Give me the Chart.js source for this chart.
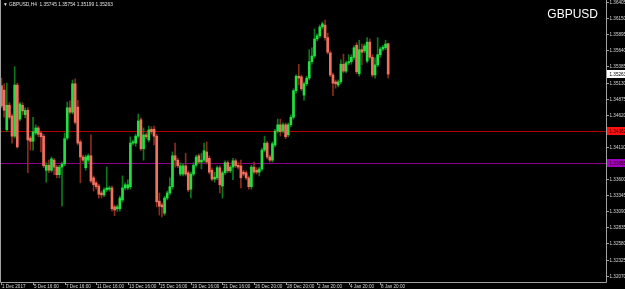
<!DOCTYPE html>
<html lang="en">
<head>
  <meta charset="UTF-8" />
  <title>GBPUSD,H4</title>
  <script src="https://cdn.jsdelivr.net/npm/chart.js@4.4.1/dist/chart.umd.min.js"></script>
  <style>
    html, body { margin: 0; padding: 0; background: #000; }
    #chart { display: block; }
  </style>
</head>
<body>
  <canvas id="chart" width="625" height="289"></canvas>

  <script>
    const symbol = 'GBPUSD';
    const header = '\u25BC GBPUSD,H4  1.35745 1.35754 1.35199 1.35263';

    // H4 candles, 1 Dec 2017 .. 8 Jan 2018
    const openP = [
      1.3508,1.3501,1.3438,1.3477,1.3460,1.3428,1.3509,1.3455,1.3477,1.3462,
      1.3469,1.3425,1.3420,1.3433,1.3441,1.3433,1.3428,1.3374,1.3382,1.3374,
      1.3390,1.3379,1.3367,1.3379,1.3384,1.3425,1.3473,1.3466,1.3511,1.3474,
      1.3419,1.3395,1.3378,1.3390,1.3397,1.3362,1.3354,1.3349,1.3338,1.3335,
      1.3343,1.3344,1.3346,1.3316,1.3313,1.3313,1.3327,1.3346,1.3346,1.3348,
      1.3417,1.3417,1.3428,1.3454,1.3408,1.3430,1.3422,1.3439,1.3439,1.3428,
      1.3325,1.3319,1.3306,1.3330,1.3338,1.3348,1.3397,1.3390,1.3368,1.3368,
      1.3381,1.3370,1.3344,1.3368,1.3382,1.3397,1.3387,1.3390,1.3403,1.3393,
      1.3374,1.3360,1.3362,1.3378,1.3349,1.3370,1.3386,1.3373,1.3379,1.3389,
      1.3382,1.3381,1.3371,1.3370,1.3362,1.3348,1.3379,1.3374,1.3371,1.3376,
      1.3406,1.3417,1.3395,1.3390,1.3414,1.3436,1.3446,1.3436,1.3446,1.3430,
      1.3446,1.3458,1.3500,1.3523,1.3522,1.3493,1.3511,1.3520,1.3546,1.3555,
      1.3582,1.3587,1.3601,1.3604,1.3584,1.3560,1.3525,1.3514,1.3509,1.3514,
      1.3542,1.3531,1.3544,1.3546,1.3553,1.3572,1.3527,1.3565,1.3563,1.3547,
      1.3577,1.3553,1.3525,1.3541,1.3557,1.3566,1.3568,1.35745
    ];
    const highP = [
      1.3520,1.3511,1.3512,1.3481,1.3463,1.3538,1.3512,1.3482,1.3481,1.3473,
      1.3473,1.3428,1.3458,1.3446,1.3444,1.3436,1.3431,1.3386,1.3390,1.3395,
      1.3393,1.3382,1.3382,1.3387,1.3433,1.3482,1.3484,1.3517,1.3519,1.3485,
      1.3422,1.3398,1.3398,1.3400,1.3430,1.3365,1.3357,1.3352,1.3341,1.3346,
      1.3379,1.3349,1.3349,1.3319,1.3319,1.3333,1.3365,1.3354,1.3359,1.3427,
      1.3422,1.3431,1.3463,1.3457,1.3441,1.3433,1.3444,1.3443,1.3444,1.3431,
      1.3338,1.3322,1.3333,1.3341,1.3362,1.3403,1.3417,1.3393,1.3386,1.3384,
      1.3401,1.3373,1.3371,1.3386,1.3398,1.3400,1.3401,1.3417,1.3419,1.3397,
      1.3378,1.3371,1.3381,1.3381,1.3373,1.3389,1.3389,1.3382,1.3393,1.3392,
      1.3386,1.3390,1.3374,1.3373,1.3365,1.3382,1.3387,1.3378,1.3379,1.3409,
      1.3428,1.3420,1.3398,1.3419,1.3439,1.3455,1.3455,1.3449,1.3449,1.3449,
      1.3462,1.3503,1.3525,1.3542,1.3525,1.3514,1.3523,1.3565,1.3568,1.3598,
      1.3590,1.3604,1.3609,1.3612,1.3591,1.3563,1.3528,1.3517,1.3517,1.3549,
      1.3558,1.3547,1.3557,1.3557,1.3571,1.3576,1.3580,1.3574,1.3574,1.3584,
      1.3582,1.3557,1.3552,1.3584,1.3569,1.3572,1.3580,1.35754
    ];
    const lowP = [
      1.3473,1.3458,1.3435,1.3455,1.3417,1.3425,1.3409,1.3452,1.3462,1.3457,
      1.3370,1.3406,1.3406,1.3430,1.3427,1.3403,1.3378,1.3355,1.3370,1.3371,
      1.3367,1.3362,1.3362,1.3317,1.3381,1.3422,1.3463,1.3463,1.3447,1.3414,
      1.3354,1.3387,1.3374,1.3387,1.3354,1.3341,1.3344,1.3330,1.3330,1.3332,
      1.3340,1.3341,1.3309,1.3302,1.3309,1.3309,1.3324,1.3343,1.3343,1.3344,
      1.3414,1.3412,1.3425,1.3405,1.3390,1.3424,1.3419,1.3431,1.3414,1.3316,
      1.3303,1.3300,1.3303,1.3327,1.3335,1.3344,1.3379,1.3378,1.3365,1.3365,
      1.3365,1.3340,1.3330,1.3365,1.3379,1.3384,1.3376,1.3387,1.3384,1.3368,
      1.3357,1.3355,1.3359,1.3338,1.3330,1.3367,1.3370,1.3370,1.3359,1.3378,
      1.3376,1.3346,1.3365,1.3359,1.3344,1.3344,1.3368,1.3368,1.3365,1.3373,
      1.3403,1.3392,1.3387,1.3387,1.3411,1.3433,1.3428,1.3433,1.3424,1.3427,
      1.3443,1.3455,1.3496,1.3509,1.3500,1.3485,1.3508,1.3517,1.3542,1.3552,
      1.3579,1.3584,1.3598,1.3580,1.3558,1.3522,1.3492,1.3504,1.3506,1.3511,
      1.3528,1.3528,1.3541,1.3542,1.3550,1.3527,1.3523,1.3541,1.3560,1.3544,
      1.3550,1.3522,1.3520,1.3538,1.3553,1.3563,1.3565,1.35199
    ];
    const closeP = [
      1.3476,1.3469,1.3477,1.3458,1.3428,1.3509,1.3411,1.3479,1.3468,1.3469,
      1.3422,1.3420,1.3435,1.3441,1.3431,1.3427,1.3381,1.3382,1.3374,1.3392,
      1.3379,1.3367,1.3379,1.3384,1.3424,1.3473,1.3466,1.3511,1.3450,1.3417,
      1.3395,1.3390,1.3395,1.3397,1.3357,1.3351,1.3348,1.3336,1.3335,1.3343,
      1.3346,1.3346,1.3313,1.3311,1.3316,1.3330,1.3346,1.3351,1.3351,1.3417,
      1.3419,1.3428,1.3452,1.3408,1.3430,1.3427,1.3438,1.3435,1.3428,1.3324,
      1.3317,1.3316,1.3330,1.3338,1.3348,1.3397,1.3390,1.3381,1.3381,1.3381,
      1.3368,1.3343,1.3368,1.3382,1.3395,1.3387,1.3390,1.3405,1.3387,1.3371,
      1.3360,1.3363,1.3378,1.3351,1.3370,1.3386,1.3373,1.3379,1.3389,1.3381,
      1.3379,1.3362,1.3368,1.3362,1.3348,1.3379,1.3371,1.3371,1.3376,1.3406,
      1.3417,1.3395,1.3390,1.3416,1.3436,1.3446,1.3435,1.3446,1.3427,1.3446,
      1.3458,1.3500,1.3523,1.3520,1.3503,1.3511,1.3520,1.3546,1.3555,1.3582,
      1.3587,1.3601,1.3606,1.3584,1.3561,1.3525,1.3512,1.3511,1.3514,1.3542,
      1.3531,1.3544,1.3546,1.3553,1.3568,1.3530,1.3565,1.3561,1.3571,1.3577,
      1.3553,1.3525,1.3541,1.3557,1.3566,1.3569,1.3574,1.35263
    ];

    const timeTickIndex = [0, 12, 24, 36, 48, 60, 72, 84, 96, 108, 120, 132, 144];
    const timeTickLabels = [
      '1 Dec 2017', '5 Dec 16:00', '7 Dec 16:00', '11 Dec 16:00', '13 Dec 16:00',
      '15 Dec 16:00', '19 Dec 16:00', '21 Dec 16:00', '26 Dec 20:00', '28 Dec 20:00',
      '2 Jan 20:00', '4 Jan 20:00', '8 Jan 20:00'
    ];
    const priceTicks = [
      1.36405, 1.36150, 1.35895, 1.35640, 1.35385, 1.35130, 1.34875, 1.34620, 1.34365,
      1.34110, 1.33855, 1.33600, 1.33345, 1.33090, 1.32835, 1.32580, 1.32325, 1.32070
    ];
    const levelPrices = [1.34362, 1.33855];
    const lastPrice = 1.35263;

    const levelLine = ['#b00000', '#900090'];
    const levelBox = ['#ff1010', '#a000c0'];
    const bull = openP.map((o, i) => closeP[i] >= o);

    const terminal = {
      id: 'terminal',
      beforeDatasetsDraw(chart) {
        const { ctx, chartArea: a, scales: { y } } = chart;
        ctx.save();
        levelPrices.forEach((p, i) => {
          const py = Math.round(y.getPixelForValue(p));
          ctx.fillStyle = levelLine[i];
          ctx.fillRect(a.left, py, a.right - a.left, 1);
        });
        ctx.restore();
      },
      afterDraw(chart) {
        const { ctx, chartArea: a, scales: { x, y } } = chart;
        ctx.save();
        ctx.strokeStyle = '#a0a0a0';
        ctx.lineWidth = 1;
        ctx.beginPath();
        ctx.moveTo(0.5, 0);
        ctx.lineTo(0.5, a.bottom + 0.5);
        ctx.lineTo(a.right + 0.5, a.bottom + 0.5);
        ctx.lineTo(a.right + 0.5, 0);
        ctx.stroke();

        // price scale
        ctx.font = '4.6px "Liberation Sans"';
        ctx.fillStyle = '#d8d8d8';
        ctx.textAlign = 'left';
        ctx.textBaseline = 'middle';
        priceTicks.forEach(p => {
          const py = Math.round(y.getPixelForValue(p)) + 0.5;
          ctx.beginPath();
          ctx.moveTo(a.right, py);
          ctx.lineTo(a.right + 3, py);
          ctx.stroke();
          ctx.fillText(p.toFixed(5), a.right + 3.5, py);
        });

        // time scale
        ctx.textBaseline = 'top';
        timeTickIndex.forEach((idx, k) => {
          const px = Math.round(x.getPixelForValue(idx)) + 0.5;
          ctx.beginPath();
          ctx.moveTo(px, a.bottom);
          ctx.lineTo(px, a.bottom + 3);
          ctx.stroke();
          ctx.fillText(timeTickLabels[k], px + 0.5, a.bottom + 2.2);
        });

        // price boxes on the right
        const box = (p, bg, fg) => {
          const py = Math.round(y.getPixelForValue(p));
          ctx.fillStyle = bg;
          ctx.fillRect(a.right + 1, py - 4, 19, 8);
          ctx.fillStyle = fg;
          ctx.textBaseline = 'middle';
          ctx.fillText(p.toFixed(5), a.right + 3.5, py + 0.5);
        };
        levelPrices.forEach((p, i) => box(p, levelBox[i], '#300000'));
        box(lastPrice, '#ffffff', '#000000');

        // header and symbol
        ctx.fillStyle = '#e0e0e0';
        ctx.font = '4.8px "Liberation Sans"';
        ctx.textBaseline = 'middle';
        ctx.fillText(header, 3, 4.5);
        ctx.fillStyle = '#ffffff';
        ctx.font = '12px "Liberation Sans"';
        ctx.textAlign = 'right';
        ctx.textBaseline = 'alphabetic';
        ctx.fillText(symbol, 598, 18);
        ctx.restore();
      }
    };

    const wickData = openP.map((o, i) => ({ x: i, y: [lowP[i], highP[i]] }));
    const bodyData = openP.map((o, i) => ({ x: i, y: [o, closeP[i]] }));

    new Chart(document.getElementById('chart'), {
      type: 'bar',
      data: {
        datasets: [
          {
            data: wickData,
            backgroundColor: bull.map(b => b ? '#0c7a1c' : '#8c2a1e'),
            barThickness: 1,
            grouped: false,
            order: 2
          },
          {
            data: bodyData,
            backgroundColor: bull.map(b => b ? '#22e040' : '#f2705e'),
            barThickness: 2,
            minBarLength: 1,
            grouped: false,
            order: 1
          }
        ]
      },
      options: {
        responsive: false,
        animation: false,
        layout: { padding: { left: 0, top: 0, right: 19, bottom: 7 } },
        plugins: { legend: { display: false }, tooltip: { enabled: false } },
        scales: {
          x: { type: 'linear', min: -0.57, max: 229.8, offset: false, display: false },
          y: { min: 1.3197, max: 1.36437, display: false }
        }
      },
      plugins: [terminal]
    });
  </script>
</body>
</html>
